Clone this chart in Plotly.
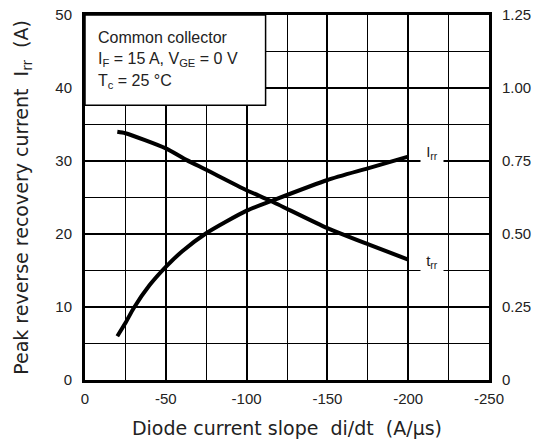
import plotly.graph_objects as go

# Data
irr_x = [-20, -25, -30, -40, -50, -60, -75, -100, -115, -150, -175, -200]
irr_y = [6.0, 7.8, 9.8, 13.0, 15.5, 17.6, 20.1, 23.2, 24.5, 27.4, 29.0, 30.6]

trr_x = [-20, -25, -50, -63, -75, -100, -115, -150, -175, -200]
trr_y = [0.850, 0.845, 0.793, 0.753, 0.720, 0.650, 0.613, 0.520, 0.465, 0.4125]

x_tickvals = [0, -50, -100, -150, -200, -250]
x_ticktext = ["0", "-50", "-100", "-150", "-200", "-250"]
y_tickvals = [0, 10, 20, 30, 40, 50]
y_ticktext = ["0", "10", "20", "30", "40", "50"]
y2_tickvals = [0, 0.25, 0.5, 0.75, 1.0, 1.25]
y2_ticktext = ["0", "0.25", "0.50", "0.75", "1.00", "1.25"]

FONT = "Liberation Sans, Arial, sans-serif"
TFONT = "DejaVu Sans, sans-serif"
TXT = "#222222"
NB = "\u00a0"

fig = go.Figure()
fig.add_trace(go.Scatter(x=irr_x, y=irr_y, mode="lines",
                         line=dict(color="black", width=4, shape="spline", smoothing=0.6),
                         showlegend=False, hoverinfo="skip"))
fig.add_trace(go.Scatter(x=trr_x, y=trr_y, mode="lines",
                         line=dict(color="black", width=4, shape="spline", smoothing=0.6),
                         yaxis="y2", showlegend=False, hoverinfo="skip"))

fig.update_layout(
    width=534, height=446,
    margin=dict(l=85, r=45, t=15, b=66),
    paper_bgcolor="white", plot_bgcolor="white",
    font=dict(family=FONT, size=15, color=TXT),
    xaxis=dict(
        range=[0, -250], tickvals=x_tickvals, ticktext=x_ticktext,
        showgrid=True, gridcolor="black", gridwidth=2,
        minor=dict(dtick=25, tick0=0, showgrid=True, gridcolor="black", gridwidth=1),
        showline=True, linecolor="black", linewidth=3, mirror=True,
        zeroline=False, ticks="", ticklabelstandoff=3, automargin=False,
        title=dict(text="Diode current slope" + NB * 2 + "di/dt" + NB * 2 + "(A/μs)",
                   font=dict(family=TFONT, size=19, color=TXT), standoff=16),
    ),
    yaxis=dict(
        range=[0, 50], tickvals=y_tickvals, ticktext=y_ticktext,
        showgrid=True, gridcolor="black", gridwidth=2,
        minor=dict(dtick=5, tick0=0, showgrid=True, gridcolor="black", gridwidth=1),
        showline=True, linecolor="black", linewidth=3, mirror=True,
        zeroline=False, ticks="", ticklabelstandoff=7, automargin=False,
        title=dict(text="Peak reverse recovery current" + NB * 2 + "I<sub>rr</sub>" + NB * 2 + "(A)",
                   font=dict(family=TFONT, size=19, color=TXT), standoff=22),
    ),
    yaxis2=dict(
        range=[0, 1.25], tickvals=y2_tickvals, ticktext=y2_ticktext,
        overlaying="y", side="right", showgrid=False, zeroline=False,
        showline=False, ticks="", ticklabelstandoff=12, automargin=False,
    ),
)

# condition box
fig.add_shape(type="rect", xref="paper", yref="paper", x0=0, x1=0.447, y0=0.753, y1=1,
              fillcolor="white", line=dict(color="black", width=1.5), layer="above")
for txt, yy in [("Common collector", 0.938),
                ("I<sub>F</sub> = 15 A, V<sub>GE</sub> = 0 V", 0.879),
                ("T<sub>c</sub> = 25 °C", 0.819)]:
    fig.add_annotation(xref="paper", yref="paper", x=0.027, y=yy, text=txt, showarrow=False,
                       xanchor="left", yanchor="middle", align="left", font=dict(size=16, color=TXT))

# curve labels
fig.add_annotation(x=-214.5, y=30, text="I<sub>rr</sub>", showarrow=False, xanchor="center", yanchor="bottom",
                   yshift=-3, bgcolor="white", width=20, font=dict(size=15, color=TXT))
fig.add_annotation(x=-214.5, y=15, text="t<sub>rr</sub>", showarrow=False, xanchor="center", yanchor="bottom",
                   yshift=-2, bgcolor="white", width=20, font=dict(size=15, color=TXT))

fig.write_html("out.html", config={"displayModeBar": False},
               post_script="document.body.style.margin='0';document.body.style.overflow='hidden';")
